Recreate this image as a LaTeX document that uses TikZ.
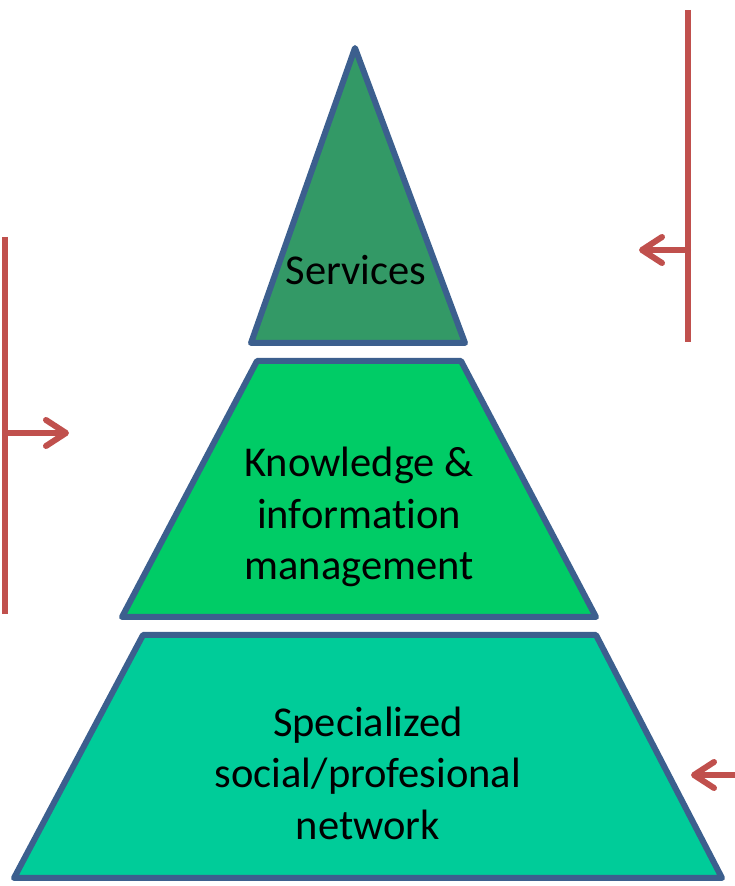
\documentclass[tikz,border=0pt]{standalone}
\usepackage{fontspec}
\setmainfont{Carlito}[Ligatures={NoCommon}]
\usetikzlibrary{arrows.meta}
\definecolor{edgeblue}{HTML}{3C5F8E}
\definecolor{accentred}{HTML}{C0504D}
\definecolor{topgreen}{HTML}{339966}
\definecolor{midgreen}{HTML}{00CC66}
\definecolor{basegreen}{HTML}{00CC99}
\tikzset{
  layer/.style={draw=edgeblue,line width=6pt,line join=round},
  layertext/.style={align=center,font=\fontsize{42.5}{51.5}\selectfont},
  bracket/.style={draw=accentred,line width=6pt},
  pointer/.style={bracket,line cap=round,-{Straight Barb[length=20pt,width=26pt,round]}}
}
\begin{document}
\begin{tikzpicture}[x=1pt,y=1pt]
  \useasboundingbox (0,0) rectangle (734,886);

  % pyramid layers
  \draw[layer,fill=topgreen] (355,838) -- (465,543) -- (251,543) -- cycle;
  \draw[layer,fill=midgreen] (257,525) -- (461,525) -- (596,269) -- (122,269) -- cycle;
  \draw[layer,fill=basegreen] (143,251) -- (596,251) -- (722,8) -- (14,8) -- cycle;

  \node[layertext] (services) at (356,616) {Services};
  \node[layertext] (knowledge) at (359,369) {Knowledge \&\\information\\management};
  \node[layertext] (network) at (368,113) {Specialized\\social/profesional\\network};

  % brackets and arrows
  \coordinate (rtop) at (688,876);
  \coordinate (rbot) at (688,544);
  \coordinate (rmid) at (688,636);
  \coordinate (rtip) at (639,636);
  \draw[bracket] (rtop) -- (rbot);
  \draw[pointer] (rmid) -- (rtip);

  \coordinate (ltop) at (5,649);
  \coordinate (lbot) at (5,272);
  \coordinate (lmid) at (5,453);
  \coordinate (ltip) at (69,453);
  \draw[bracket] (ltop) -- (lbot);
  \draw[pointer] (lmid) -- (ltip);

  \coordinate (bstart) at (740,111);
  \coordinate (btip) at (691,111);
  \draw[pointer] (bstart) -- (btip);
\end{tikzpicture}
\end{document}
